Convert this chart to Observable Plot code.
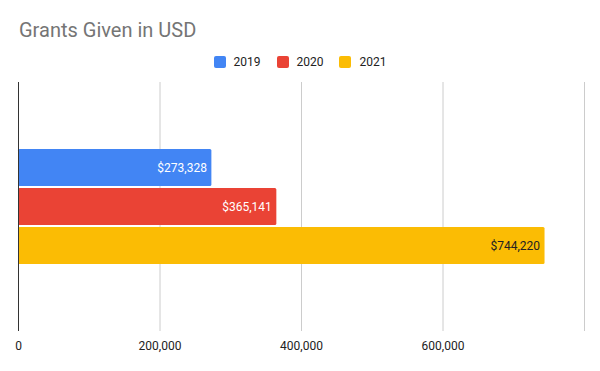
<!DOCTYPE html>
<html>
<head>
<meta charset="utf-8">
<script src="https://cdn.jsdelivr.net/npm/d3@7"></script>
<script src="https://cdn.jsdelivr.net/npm/@observablehq/plot@0.6"></script>
<style>
  html, body { margin: 0; padding: 0; background: #fff; font-family: Roboto, sans-serif; }
  #wrap { width: 600px; height: 371px; position: relative; overflow: hidden; }
  #header { position: relative; height: 82px; }
  #title { position: absolute; left: 19px; top: 18px; font-size: 20px; color: #757575; line-height: 24px; }
  #legend { position: absolute; left: 0; width: 600px; top: 55px; display: flex; justify-content: center; font-size: 12px; color: #222; line-height: 14px; }
  .item { display: flex; align-items: center; margin: 0 8px; }
  .sw { width: 12px; height: 12px; border-radius: 2px; margin-right: 8px; }
  svg { display: block; }
</style>
</head>
<body>
<div id="wrap">
  <div id="header">
    <div id="title"></div>
    <div id="legend"></div>
  </div>
  <div id="chart"></div>
</div>
<script>
const title = "Grants Given in USD";
const years = ["2019", "2020", "2021"];
const amounts = [273328, 365141, 744220];
const colors = ["#4285F4", "#EA4335", "#FBBC04"];
const labelColors = ["#ffffff", "#ffffff", "#222222"];
const xTicks = [0, 200000, 400000, 600000];
const gridTicks = [200000, 400000, 600000, 800000];

document.getElementById("title").textContent = title;
const legend = document.getElementById("legend");
years.forEach((y, i) => {
  const it = document.createElement("div");
  it.className = "item";
  const sw = document.createElement("div");
  sw.className = "sw";
  sw.style.background = colors[i];
  const t = document.createElement("span");
  t.textContent = y;
  it.appendChild(sw); it.appendChild(t);
  legend.appendChild(it);
});

const data = years.map((y, i) => ({year: y, amount: amounts[i], label: "$" + d3.format(",")(amounts[i]), lc: labelColors[i]}));
const fmt = d3.format(",");

const chart = Plot.plot({
  width: 600,
  height: 289,
  marginTop: 0,
  marginBottom: 40,
  marginLeft: 18,
  marginRight: 16,
  style: {fontFamily: "Roboto, sans-serif", fontSize: "12px", color: "#222"},
  x: {domain: [0, 800000], label: null},
  y: {domain: years, paddingInner: 0.05, paddingOuter: 1.64, axis: null},
  color: {domain: years, range: colors},
  marks: [
    Plot.ruleX(gridTicks, {stroke: "#cccccc", strokeWidth: 1}),
    Plot.barX(data, {x: "amount", y: "year", fill: "year", rx: 1.5}),
    Plot.ruleX([0], {stroke: "#333333", strokeWidth: 1}),
    Plot.text(data, {x: "amount", y: "year", text: "label", textAnchor: "end", dx: -5, fill: "lc", fontSize: 12}),
    Plot.axisX(xTicks, {tickSize: 0, tickPadding: 10, tickFormat: fmt, fill: "#222", fontSize: 12, label: null})
  ]
});
document.getElementById("chart").appendChild(chart);
</script>
</body>
</html>
